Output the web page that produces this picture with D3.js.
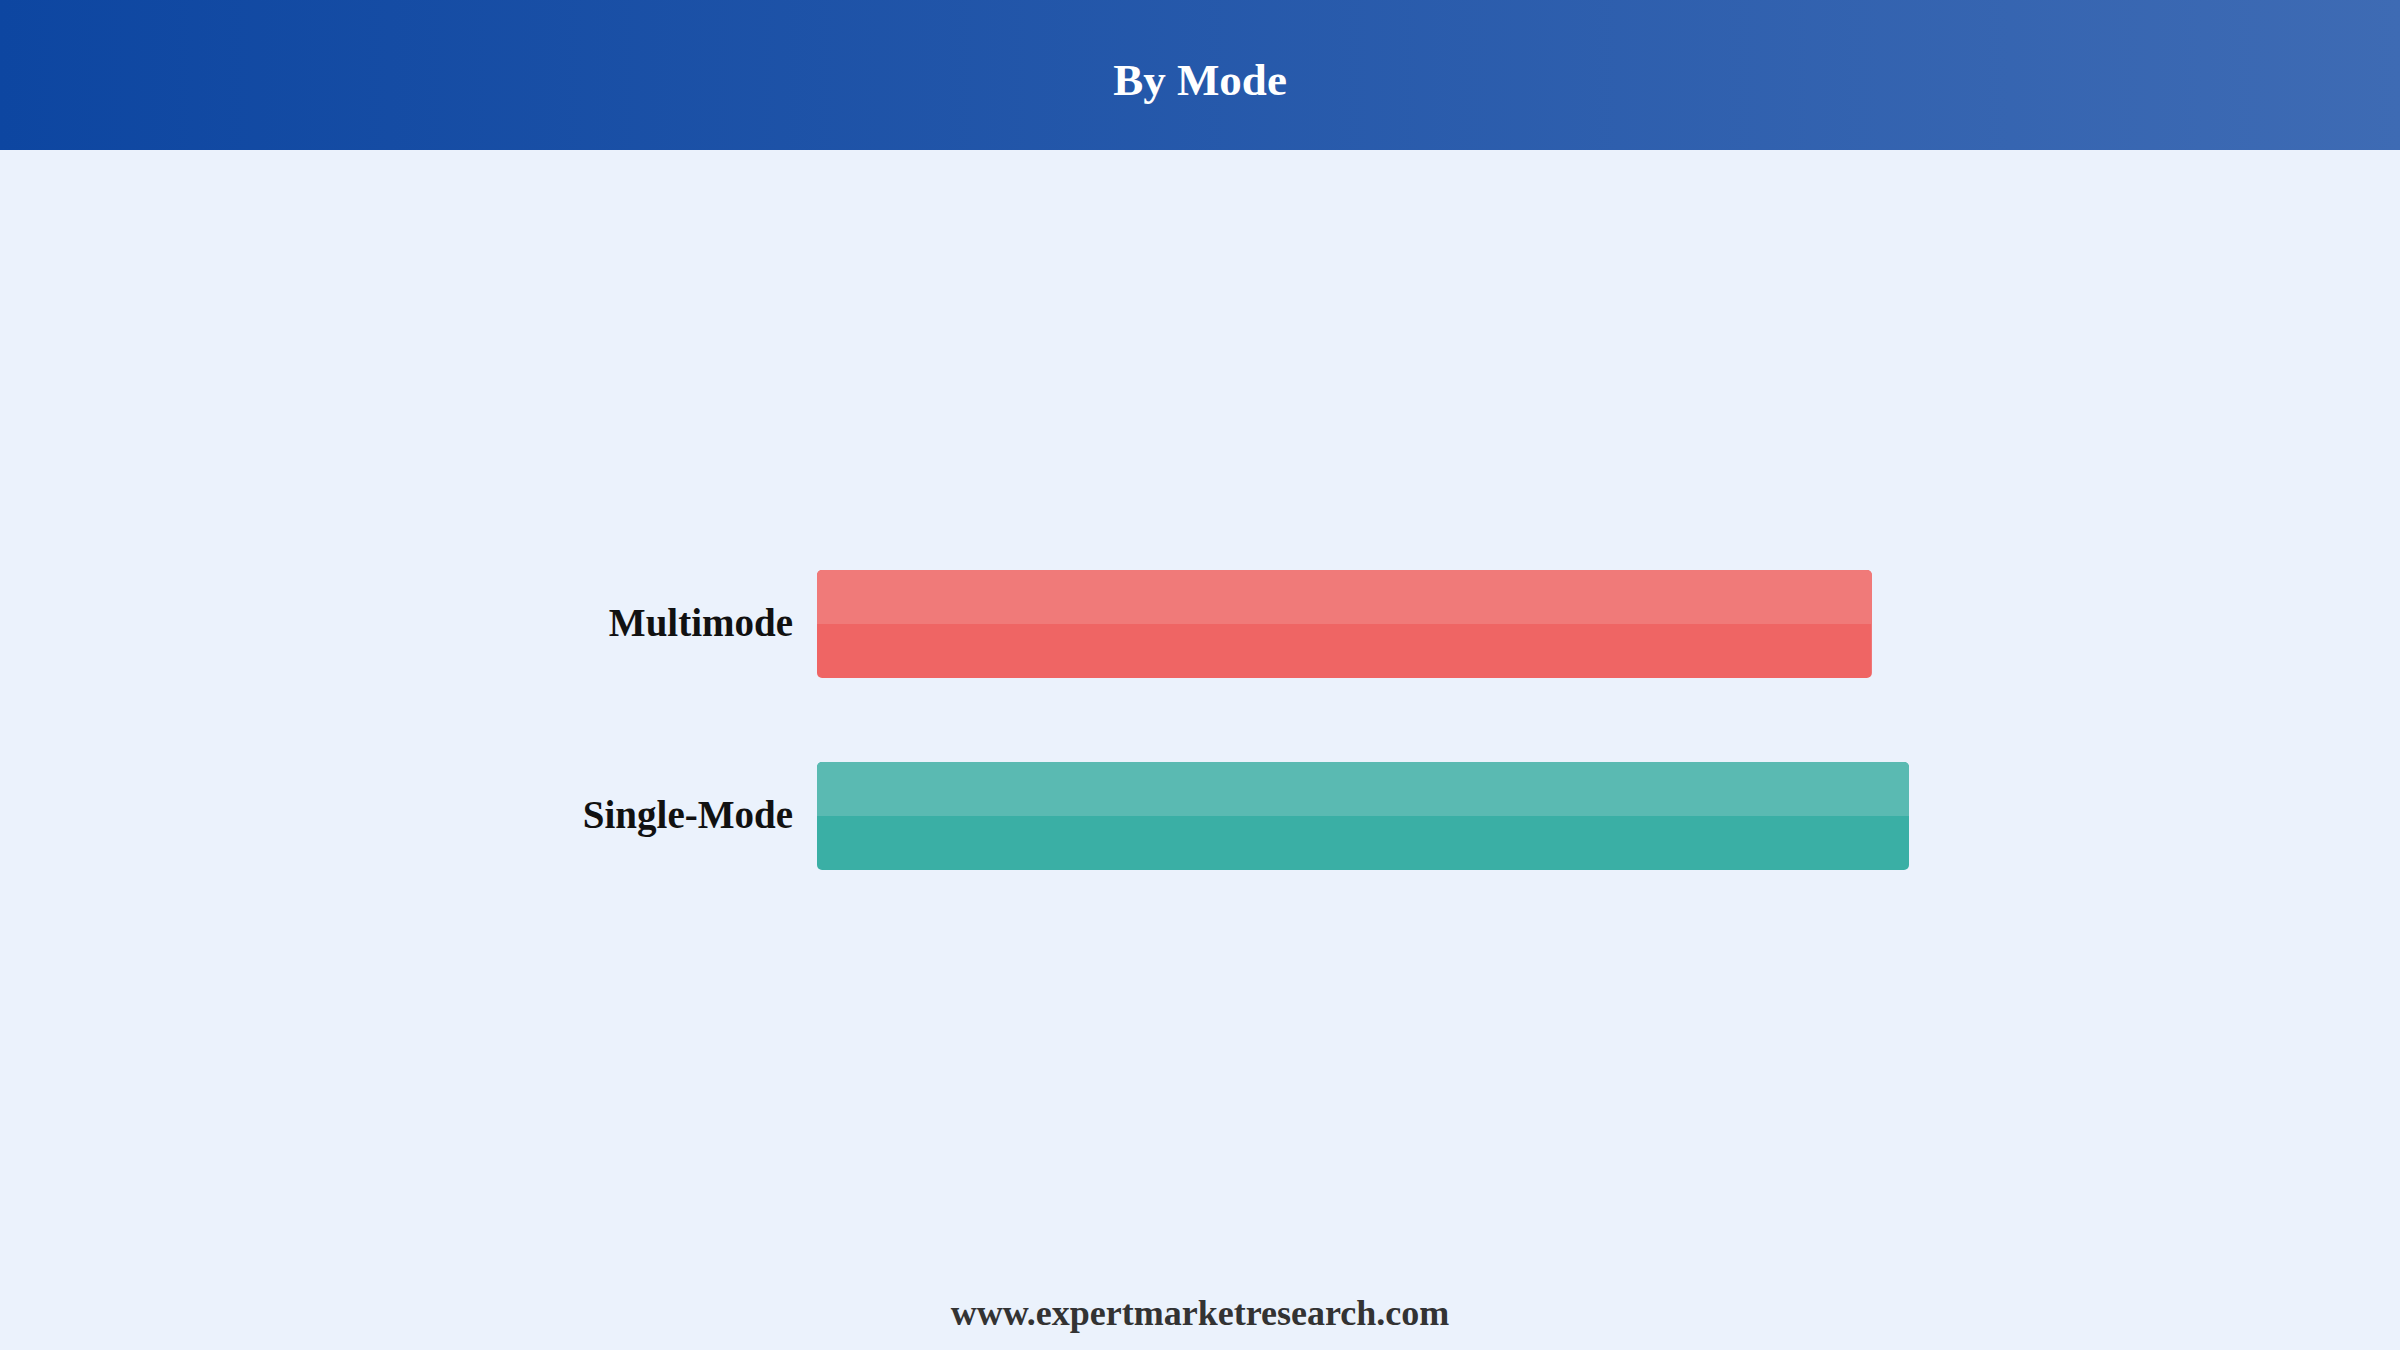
<!DOCTYPE html>
<html>
<head>
<meta charset="utf-8">
<script src="https://cdn.jsdelivr.net/npm/d3@7"></script>
<style>
  html, body { margin: 0; padding: 0; background: #EBF2FC; }
  svg { display: block; }
</style>
</head>
<body>
<svg id="chart"></svg>
<script>
// Config
const width = 2400;
const height = 1350;

// Data
const title = "By Mode";
const categories = ["Multimode", "Single-Mode"];
const values = [48.3, 50.0];
const baseColors = ["#EF6564", "#3AAFA5"];
const topColors = ["#F07A79", "#5ABAB2"];
const footer = "www.expertmarketresearch.com";

const font = "'Times New Roman', 'Liberation Serif', serif";

const svg = d3.select("#chart")
  .attr("width", width)
  .attr("height", height);

// fondo
svg.append("rect")
  .attr("width", width)
  .attr("height", height)
  .attr("fill", "#EBF2FC");

// cabecera con degradado
const defs = svg.append("defs");
const grad = defs.append("linearGradient")
  .attr("id", "hdr")
  .attr("x1", "0%").attr("x2", "100%")
  .attr("y1", "0%").attr("y2", "0%");
grad.append("stop").attr("offset", "0%").attr("stop-color", "#0D46A1");
grad.append("stop").attr("offset", "100%").attr("stop-color", "#3E6BB4");

svg.append("rect")
  .attr("width", width)
  .attr("height", 150)
  .attr("fill", "url(#hdr)");

svg.append("text")
  .attr("x", width / 2)
  .attr("y", 95)
  .attr("text-anchor", "middle")
  .attr("font-family", font)
  .attr("font-weight", "bold")
  .attr("font-size", 45)
  .attr("fill", "#ffffff")
  .text(title);

// escalas
const xScale = d3.scaleLinear()
  .domain([0, d3.max(values)])
  .range([817, 1909]);

const yScale = d3.scaleBand()
  .domain(categories)
  .range([570, 870])
  .paddingInner(0.4375)
  .paddingOuter(0);

const bars = svg.append("g");

categories.forEach((cat, i) => {
  const y = yScale(cat);
  const h = yScale.bandwidth();
  const x0 = xScale(0);
  const w = xScale(values[i]) - x0;

  bars.append("rect")
    .attr("x", x0)
    .attr("y", y)
    .attr("width", w)
    .attr("height", h)
    .attr("rx", 5)
    .attr("fill", baseColors[i]);

  // mitad superior mas clara
  bars.append("rect")
    .attr("x", x0)
    .attr("y", y)
    .attr("width", w)
    .attr("height", h / 2)
    .attr("rx", 5)
    .attr("fill", topColors[i]);
  bars.append("rect")
    .attr("x", x0)
    .attr("y", y + 6)
    .attr("width", w)
    .attr("height", h / 2 - 6)
    .attr("fill", topColors[i]);

  // etiqueta
  svg.append("text")
    .attr("x", x0 - 24)
    .attr("y", y + h / 2 + 12)
    .attr("text-anchor", "end")
    .attr("font-family", font)
    .attr("font-weight", "bold")
    .attr("font-size", 39)
    .attr("fill", "#111111")
    .text(cat);
});

// pie
svg.append("text")
  .attr("x", width / 2)
  .attr("y", 1325)
  .attr("text-anchor", "middle")
  .attr("font-family", font)
  .attr("font-weight", "bold")
  .attr("font-size", 36)
  .attr("fill", "#333333")
  .text(footer);
</script>
</body>
</html>
